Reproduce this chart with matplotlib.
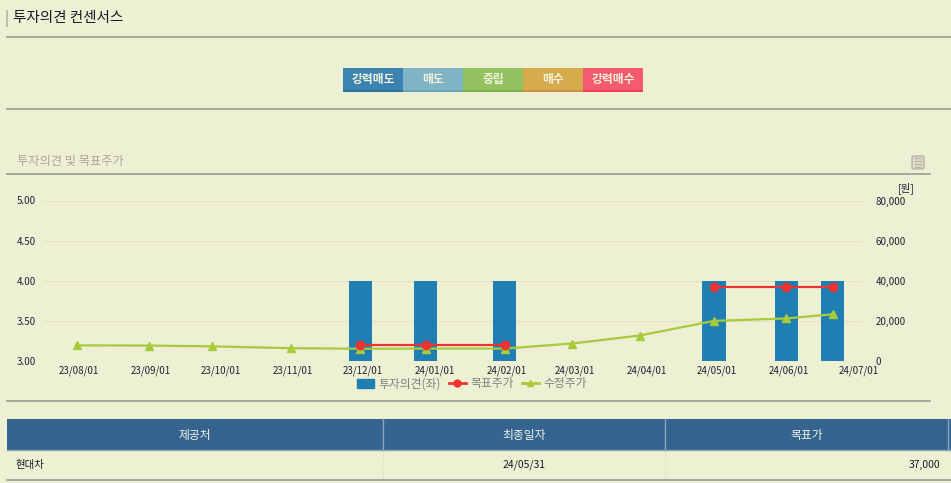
import datetime as dt

import matplotlib
matplotlib.use("Agg")
import matplotlib.pyplot as plt
import matplotlib.dates as mdates
from matplotlib.patches import Rectangle, Patch, FancyBboxPatch
from matplotlib.lines import Line2D
from matplotlib.ticker import FuncFormatter

plt.rcParams['font.family'] = ['Noto Sans CJK KR', 'DejaVu Sans']

# data
dates = ['2023-07-31', '2023-08-31', '2023-09-27', '2023-10-31', '2023-11-30', '2023-12-28',
         '2024-01-31', '2024-02-29', '2024-03-29', '2024-04-30', '2024-05-31', '2024-06-20']
opinion = [None, None, None, None, 4.0, 4.0, 4.0, None, None, 4.0, 4.0, 4.0]
target = [None, None, None, None, 8000, 8000, 8000, None, None, 37000, 37000, 37000]
close = [7800, 7700, 7300, 6400, 6100, 6200, 6200, 8700, 12700, 20000, 21200, 23300]

tick_dates = ['2023-08-01', '2023-09-01', '2023-10-01', '2023-11-01', '2023-12-01', '2024-01-01',
              '2024-02-01', '2024-03-01', '2024-04-01', '2024-05-01', '2024-06-01', '2024-07-01']

buttons = ['강력매도', '매도', '중립', '매수', '강력매수']
button_colors = ['#3b84b1', '#7fb4c4', '#92c360', '#d6ab4e', '#f55b6f']
button_dark = ['#2f73a3', '#6aa4b6', '#79b04a', '#d48f3e', '#f23c5e']

table_cols = ['제공처', '최종일자', '목표가']
table_row = ['현대차', '24/05/31', '37,000']

bg = '#eef0d3'
W, H = 951, 483

fig = plt.figure(figsize=(W / 100, H / 100), dpi=100, facecolor=bg)


def fx(x):
    return x / W


def fy(y):
    return 1 - y / H


def hline(y, x0, x1, color='#9a9a92', lw=1.2):
    fig.add_artist(Line2D([fx(x0), fx(x1)], [fy(y), fy(y)], color=color, lw=lw))


# header
fig.add_artist(Rectangle((fx(6), fy(27)), 2 / W, 17 / H, color='#bdbdb0', lw=0))
fig.text(fx(13), fy(18), '투자의견 컨센서스', fontsize=10.5, color='#1a1a2a', va='center')
hline(37, 7, 951)

# opinion buttons
bx0, bw, by0, bh = 343, 60, 68, 24
for i, (name, c) in enumerate(zip(buttons, button_colors)):
    x = bx0 + i * bw
    fig.add_artist(Rectangle((fx(x), fy(by0 + bh)), bw / W, bh / H, color=c, lw=0))
    fig.add_artist(Rectangle((fx(x), fy(by0 + bh)), bw / W, 2.5 / H, color=button_dark[i], lw=0))
    fig.text(fx(x + bw / 2), fy(by0 + bh / 2), name, fontsize=8.5, color='#f4f1dc',
             ha='center', va='center', fontweight='bold')
hline(109, 7, 951)

# chart sub header
fig.text(fx(17), fy(162), '투자의견 및 목표주가', fontsize=8.8, color='#aaa59c', va='center')
fig.add_artist(FancyBboxPatch((fx(912), fy(169)), 12 / W, 13 / H,
                              boxstyle='round,pad=0,rounding_size=0.002',
                              fc='#dcdcc8', ec='#b5b5a8', lw=1))
for k in range(4):
    yy = 158 + k * 3
    fig.add_artist(Line2D([fx(915), fx(921)], [fy(yy), fy(yy)], color='#b5b5a8', lw=0.8))
hline(174, 7, 930)

# chart
d = [dt.datetime.strptime(s, '%Y-%m-%d') for s in dates]
ticks = [dt.datetime.strptime(s, '%Y-%m-%d') for s in tick_dates]

ax = fig.add_axes([fx(44), fy(361), (863 - 44) / W, 160.5 / H])
ax.set_facecolor('none')
bar_d = [x for x, v in zip(d, opinion) if v is not None]
bar_v = [v for v in opinion if v is not None]
ax.bar(bar_d, bar_v, width=10, color='#1f7fb3', zorder=2)
ax.set_ylim(3, 5)
ax.set_yticks([3.0, 3.5, 4.0, 4.5, 5.0])
ax.yaxis.set_major_formatter(FuncFormatter(lambda v, p: '%.2f' % v))
ax.set_xlim(dt.datetime(2023, 7, 17), dt.datetime(2024, 7, 3))
ax.set_xticks(ticks)
ax.xaxis.set_major_formatter(mdates.DateFormatter('%y/%m/%d'))
ax.grid(axis='y', color='#e6e2c6', lw=0.8, zorder=0)
ax.tick_params(length=0, labelsize=7, colors='#222238', pad=3)
ax.tick_params(axis='y', pad=6)
for s in ax.spines.values():
    s.set_visible(False)

ax2 = ax.twinx()
ax2.set_ylim(0, 80000)
ax2.set_yticks([0, 20000, 40000, 60000, 80000])
ax2.yaxis.set_major_formatter(FuncFormatter(lambda v, p: '{:,}'.format(int(v))))
ax2.tick_params(length=0, labelsize=7, colors='#222238', pad=9)
for s in ax2.spines.values():
    s.set_visible(False)

tgt = [float('nan') if v is None else v for v in target]
ax2.plot(d, close, color='#a8cb3c', lw=1.6, marker='^', markersize=6, zorder=3)
ax2.plot(d, tgt, color='#ee3333', lw=1.6, marker='o', markersize=6, zorder=4)
fig.text(fx(906), fy(188), '[원]', fontsize=7.5, color='#222238', ha='center', va='center')

handles = [Patch(color='#1f7fb3'),
           Line2D([], [], color='#ee3333', lw=2, marker='o', markersize=5),
           Line2D([], [], color='#a8cb3c', lw=2, marker='^', markersize=5)]
fig.legend(handles, ['투자의견(좌)', '목표주가', '수정주가'], loc='center',
           bbox_to_anchor=(fx(472), fy(384)), ncol=3, frameon=False, fontsize=8.5,
           labelcolor='#808080', handlelength=1.4, handleheight=0.9, handletextpad=0.4,
           columnspacing=0.7)
hline(401, 7, 930)

# table
fig.add_artist(Rectangle((fx(7), fy(450)), (951 - 7) / W, 31 / H, color='#35648f', lw=0))
hline(450, 7, 951, color='#8ea5bb', lw=1)
col_edges = [7, 383, 665, 948]
for x in col_edges[1:]:
    fig.add_artist(Line2D([fx(x), fx(x)], [fy(419), fy(450)], color='#8ea5bb', lw=1))
for x in col_edges[1:3]:
    fig.add_artist(Line2D([fx(x), fx(x)], [fy(451), fy(480)], color='#dcd9bd', lw=0.8, ls=':'))
for i, name in enumerate(table_cols):
    cx = (col_edges[i] + col_edges[i + 1]) / 2
    fig.text(fx(cx), fy(435), name, fontsize=8.5, color='#f4f4ee', ha='center', va='center')
fig.text(fx(15), fy(465), table_row[0], fontsize=7.5, color='#1a1a2a', va='center')
fig.text(fx(524), fy(465), table_row[1], fontsize=7.5, color='#1a1a2a', ha='center', va='center')
fig.text(fx(940), fy(465), table_row[2], fontsize=7.5, color='#1a1a2a', ha='right', va='center')
hline(480, 7, 951)

fig.savefig('out.png', dpi=100, facecolor=bg)
